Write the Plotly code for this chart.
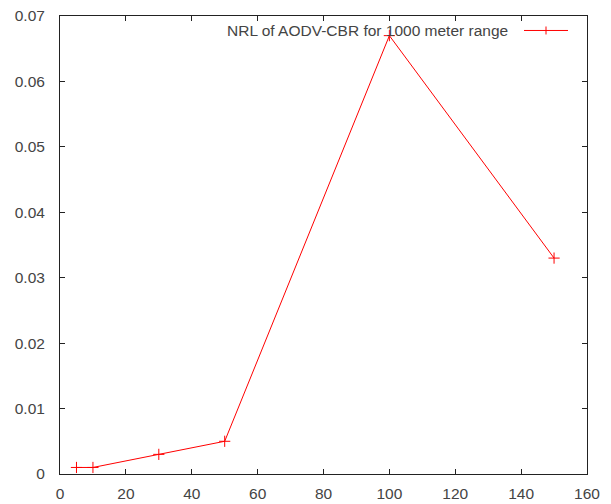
import plotly.graph_objects as go

x_vals = [5, 10, 30, 50, 100, 150]
nrl_vals = [0.001, 0.001, 0.003, 0.005, 0.067, 0.033]
series_name = "NRL of AODV-CBR for 1000 meter range"
x_ticks = [0, 20, 40, 60, 80, 100, 120, 140, 160]
y_ticks = [0, 0.01, 0.02, 0.03, 0.04, 0.05, 0.06, 0.07]
y_tick_text = ["0", "0.01", "0.02", "0.03", "0.04", "0.05", "0.06", "0.07"]

RED = "#ff0000"
AX = "#222222"
TXT = "#444444"
FONT = "Liberation Sans, Arial, sans-serif"
FS = 15.5

fig = go.Figure()
fig.add_trace(go.Scatter(
    x=x_vals, y=nrl_vals, mode="lines+markers", name=series_name,
    line=dict(color=RED, width=1),
    marker=dict(symbol="cross-thin", size=8, line=dict(color=RED, width=1), color=RED),
    showlegend=False,
))

axis_common = dict(
    showgrid=False, zeroline=False, showline=True, linecolor=AX, linewidth=1,
    mirror="allticks", ticks="inside", ticklen=5, tickcolor=AX, tickwidth=1,
    tickfont=dict(family=FONT, size=FS, color=TXT), automargin=False,
)
fig.update_xaxes(range=[0, 160], tickvals=x_ticks, ticklabelstandoff=5, **axis_common)
fig.update_yaxes(range=[0, 0.07], tickvals=y_ticks, ticktext=y_tick_text,
                 ticklabelstandoff=11, **axis_common)

# legend (gnuplot style: text left of sample)
ly = (474 - 30) / 458.5
fig.add_annotation(xref="paper", yref="paper", x=(510 - 60) / 527, y=ly,
                   text=series_name, showarrow=False, xanchor="right", yanchor="middle",
                   font=dict(family=FONT, size=FS, color=TXT))
fig.add_shape(type="line", xref="paper", yref="paper",
              x0=(524 - 60) / 527, x1=(568 - 60) / 527, y0=ly, y1=ly,
              line=dict(color=RED, width=1))
fig.add_shape(type="line", xref="paper", yref="paper",
              x0=(546 - 60) / 527, x1=(546 - 60) / 527,
              y0=ly - 4 / 458.5, y1=ly + 4 / 458.5,
              line=dict(color=RED, width=1))

fig.update_layout(
    width=611, height=504,
    margin=dict(l=60, r=24, t=15.5, b=30, autoexpand=False),
    paper_bgcolor="white", plot_bgcolor="white",
    font=dict(family=FONT, size=FS, color=TXT),
)
fig.write_html("out.html", config={"displayModeBar": False},
               post_script="document.body.style.margin='0';document.body.style.overflow='hidden';")
